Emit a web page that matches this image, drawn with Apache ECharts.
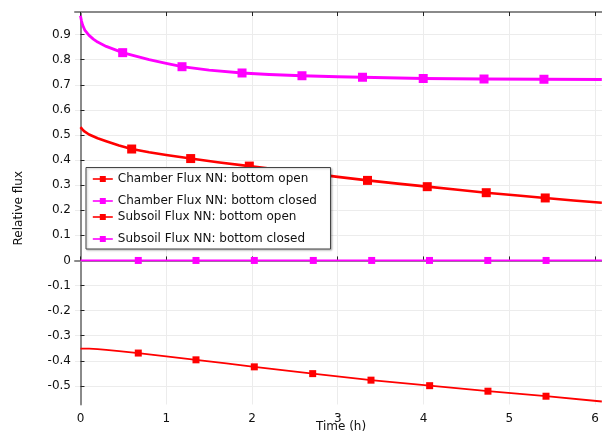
<!DOCTYPE html>
<html>
<head>
<meta charset="utf-8">
<script src="https://cdn.jsdelivr.net/npm/echarts@6/dist/echarts.min.js"></script>
<style>
  html, body { margin: 0; padding: 0; background: #fff; }
  #chart { width: 602px; height: 433px; }
</style>
</head>
<body>
<div id="chart"></div>
<script>
// Relative flux over time for the chamber and subsoil, bottom open vs closed.
const seriesNames = [
  'Chamber Flux NN: bottom open',
  'Chamber Flux NN: bottom closed',
  'Subsoil Flux NN: bottom open',
  'Subsoil Flux NN: bottom closed'
];

// Chamber, bottom open
const chamberOpenTime = [0, 0.025, 0.05, 0.1, 0.2, 0.3, 0.45, 0.597, 0.8, 1.0, 1.285, 1.6, 1.969, 2.3, 2.659, 3.0, 3.347, 3.7, 4.044, 4.4, 4.732, 5.1, 5.42, 5.75, 6.08];
const chamberOpenFlux = [0.531, 0.521, 0.513, 0.502, 0.487, 0.475, 0.458, 0.444, 0.431, 0.420, 0.406, 0.391, 0.376, 0.362, 0.348, 0.333, 0.319, 0.306, 0.294, 0.282, 0.270, 0.259, 0.249, 0.239, 0.230];
const chamberOpenMarks = [0.597, 1.285, 1.969, 2.659, 3.347, 4.044, 4.732, 5.42];

// Chamber, bottom closed
const chamberClosedTime = [0, 0.01, 0.025, 0.05, 0.1, 0.15, 0.2, 0.3, 0.4, 0.492, 0.6, 0.8, 1.0, 1.184, 1.5, 1.884, 2.2, 2.583, 3.0, 3.289, 3.997, 4.706, 5.405, 6.08];
const chamberClosedFlux = [0.975, 0.957, 0.938, 0.918, 0.897, 0.882, 0.870, 0.853, 0.840, 0.828, 0.818, 0.800, 0.785, 0.772, 0.758, 0.747, 0.741, 0.736, 0.732, 0.730, 0.725, 0.723, 0.722, 0.721];
const chamberClosedMarks = [0.492, 1.184, 1.884, 2.583, 3.289, 3.997, 4.706, 5.405];

// Subsoil, bottom open
const subsoilOpenTime = [0, 0.1, 0.2, 0.3, 0.45, 0.674, 1.0, 1.347, 1.7, 2.027, 2.708, 3.388, 4.072, 4.752, 5.429, 6.08];
const subsoilOpenFlux = [-0.351, -0.351, -0.353, -0.356, -0.361, -0.369, -0.382, -0.396, -0.410, -0.424, -0.451, -0.477, -0.499, -0.521, -0.541, -0.562];
const subsoilOpenMarks = [0.674, 1.347, 2.027, 2.708, 3.388, 4.072, 4.752, 5.429];

// Subsoil, bottom closed
const subsoilClosedTime = [0, 0.674, 1.347, 2.027, 2.715, 3.396, 4.07, 4.75, 5.43, 6.08];
const subsoilClosedFlux = [0, 0, 0, 0, 0, 0, 0, 0, 0, 0];
const subsoilClosedMarks = [0.674, 1.347, 2.027, 2.715, 3.396, 4.07, 4.75, 5.43];

// Axis ticks
const timeTicks = [0, 1, 2, 3, 4, 5, 6];
const fluxTicks = [-0.5, -0.4, -0.3, -0.2, -0.1, 0, 0.1, 0.2, 0.3, 0.4, 0.5, 0.6, 0.7, 0.8, 0.9];

const RED = '#ff0000';
const MAGENTA = '#ff00ff';
const FONT = 'DejaVu Sans';
const TEXT = '#111';

function buildData(times, values, marks) {
  return times.map((t, i) => ({
    value: [t, values[i]],
    symbol: marks.indexOf(t) >= 0 ? 'rect' : 'none'
  }));
}

function lineSeries(name, color, width, markSize, times, values, marks) {
  return {
    name: name,
    type: 'line',
    data: buildData(times, values, marks),
    symbol: 'rect',
    symbolSize: markSize,
    showAllSymbol: true,
    smooth: false,
    clip: true,
    lineStyle: { color: color, width: width, join: 'round' },
    itemStyle: { color: color },
    emphasis: { disabled: true },
    z: 2
  };
}

const fmtFlux = v => (Math.abs(v) < 1e-9 ? '0' : v.toFixed(1));

const axisLineStyle = { lineStyle: { color: '#8a8a8a', width: 2 } };
const tickLine = { color: '#222', width: 1 };
const gridLine = { show: true, lineStyle: { color: '#ececec', width: 1 } };

// Legend rows: each legend holds one entry so rows can sit at their own heights
const legendRowTops = [172, 194, 210, 232];

const legends = seriesNames.map((name, i) => ({
  data: [name],
  left: 92,
  top: legendRowTops[i],
  padding: 0,
  itemWidth: 20,
  itemHeight: 7.5,
  itemGap: 5,
  selectedMode: false,
  lineStyle: { width: 1.6 },
  textStyle: { fontFamily: FONT, fontSize: 12, color: TEXT, lineHeight: 14 },
  z: 6
}));

const chart = echarts.init(document.getElementById('chart'), null, { renderer: 'canvas' });

chart.setOption({
  animation: false,
  backgroundColor: '#ffffff',
  grid: { left: 75, right: 0, top: 12, bottom: 28.5, containLabel: false },
  legend: legends,
  graphic: [
    {
      type: 'rect',
      z: 5,
      shape: { x: 86, y: 167.5, width: 244.5, height: 81.5 },
      style: { fill: '#ffffff', stroke: '#444', lineWidth: 1, shadowBlur: 2, shadowOffsetX: 1, shadowOffsetY: 1, shadowColor: 'rgba(0,0,0,0.25)' }
    },
    {
      type: 'text',
      z: 5,
      left: 316,
      top: 421,
      style: { text: 'Time (h)', font: '12px "DejaVu Sans"', fill: TEXT }
    }
  ],
  xAxis: [
    {
      type: 'value',
      position: 'bottom',
      min: -0.064,
      max: 6.082,
      axisLine: axisLineStyle,
      axisTick: { show: true, inside: true, length: 4, customValues: timeTicks, lineStyle: tickLine },
      axisLabel: { customValues: timeTicks, margin: 8, fontFamily: FONT, fontSize: 12, color: TEXT },
      splitLine: gridLine
    },
    {
      type: 'value',
      position: 'top',
      min: -0.064,
      max: 6.082,
      axisLine: axisLineStyle,
      axisTick: { show: true, inside: true, length: 4, customValues: timeTicks, lineStyle: tickLine },
      axisLabel: { show: false },
      splitLine: { show: false }
    }
  ],
  yAxis: {
    type: 'value',
    min: -0.574,
    max: 0.99,
    name: 'Relative flux',
    nameLocation: 'middle',
    nameGap: 50,
    nameTextStyle: { fontFamily: FONT, fontSize: 12, color: TEXT },
    axisLine: axisLineStyle,
    axisTick: { show: true, inside: true, length: 4, customValues: fluxTicks, lineStyle: tickLine },
    axisLabel: { customValues: fluxTicks, formatter: fmtFlux, margin: 4, fontFamily: FONT, fontSize: 12, color: TEXT },
    splitLine: gridLine
  },
  series: [
    lineSeries(seriesNames[0], RED, 2.6, 9, chamberOpenTime, chamberOpenFlux, chamberOpenMarks),
    lineSeries(seriesNames[1], MAGENTA, 2.8, 9, chamberClosedTime, chamberClosedFlux, chamberClosedMarks),
    lineSeries(seriesNames[2], RED, 1.8, 7, subsoilOpenTime, subsoilOpenFlux, subsoilOpenMarks),
    lineSeries(seriesNames[3], MAGENTA, 1.8, 7, subsoilClosedTime, subsoilClosedFlux, subsoilClosedMarks)
  ]
});
</script>
</body>
</html>
